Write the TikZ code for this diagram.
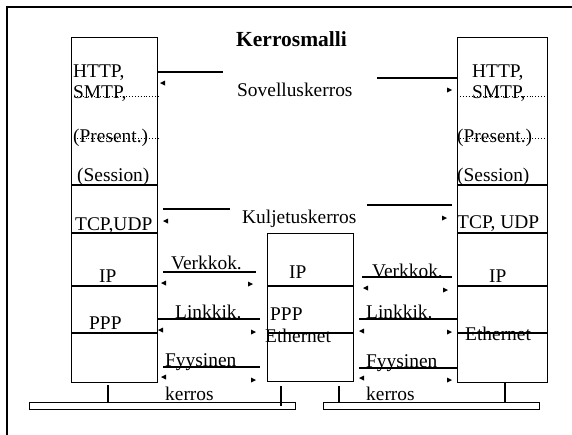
\documentclass[tikz,border=0pt]{standalone}
\usepackage{fontspec}
\setmainfont{Liberation Serif}
\begin{document}
\begin{tikzpicture}[x=1pt,y=-1pt,
  stackbox/.style={draw, line width=1.4pt, anchor=north west, inner sep=0pt, minimum width=#1},
  lbl/.style={anchor=base west, inner sep=0pt, font=\fontsize{19.4}{21}\selectfont},
  ttl/.style={anchor=base west, inner sep=0pt, font=\fontsize{21.5}{23}\selectfont\bfseries},
  sep/.style={line width=1.4pt},
  dsep/.style={line width=0.9pt, dotted},
  link/.style={line width=1.4pt},
  bus/.style={draw, line width=1.4pt, anchor=north west, inner sep=0pt, minimum height=7pt}]
\useasboundingbox (0,0) rectangle (572,434);
% outer frame
\draw[line width=1.5pt] (7,440) -- (7,7) -- (580,7);
% stacks
\node[stackbox=86pt, minimum height=345pt] (L) at (71,37) {};
\node[stackbox=90pt, minimum height=345pt] (R) at (457,37) {};
\node[stackbox=86pt, minimum height=148pt] (M) at (267,233) {};
% dividers
\foreach \n in {L,R}{
  \draw[dsep] (\n.west |- 0,96) -- (\n.east |- 0,96);
  \draw[dsep] (\n.west |- 0,138) -- (\n.east |- 0,138);
  \draw[sep] (\n.west |- 0,185) -- (\n.east |- 0,185);
  \draw[sep] (\n.west |- 0,233) -- (\n.east |- 0,233);
  \draw[sep] (\n.west |- 0,286) -- (\n.east |- 0,286);
  \draw[sep] (\n.west |- 0,333) -- (\n.east |- 0,333);
}
\draw[sep] (M.west |- 0,286) -- (M.east |- 0,286);
\draw[sep] (M.west |- 0,333) -- (M.east |- 0,333);
% buses
\node[bus, minimum width=266pt] (B1) at (29,402) {};
\node[bus, minimum width=216pt] (B2) at (323,402) {};
\draw[sep] (108,385) -- (B1.north -| 108,0);
\draw[sep] (281,386) -- (281,406);
\draw[sep] (339,386) -- (B2.north -| 339,0);
\draw[sep] (505,382) -- (B2.north -| 505,0);
% title and layer labels
\node[ttl] (title) at (236,46) {Kerrosmalli};
\node[lbl] (sov) at (237,96) {Sovelluskerros};
\node[lbl] (kul) at (242,223) {Kuljetuskerros};
% left stack texts
\node[lbl] (l1) at (73,77) {HTTP,};
\node[lbl] (l2) at (73,98) {SMTP,};
\node[lbl] (l3) at (73,142) {(Present.)};
\node[lbl] (l4) at (77,181) {(Session)};
\node[lbl] (l5) at (75,230) {TCP,UDP};
\node[lbl] (l6) at (99,282) {IP};
\node[lbl] (l7) at (89,329) {PPP};
% middle texts
\node[lbl] (m1) at (289,278) {IP};
\node[lbl] (m2) at (270,320) {PPP};
\node[lbl] (m3) at (265,342) {Ethernet};
% right stack texts
\node[lbl] (r1) at (472,77) {HTTP,};
\node[lbl] (r2) at (472,98) {SMTP,};
\node[lbl] (r3) at (457,142) {(Present.)};
\node[lbl] (r4) at (457,181) {(Session)};
\node[lbl] (r5) at (457,228) {TCP, UDP};
\node[lbl] (r6) at (489,282) {IP};
\node[lbl] (r7) at (465,340) {Ethernet};
% link labels
\node[lbl] (v1) at (171,269) {Verkkok.};
\node[lbl] (k1) at (175,318) {Linkkik.};
\node[lbl] (f1) at (165,366) {Fyysinen};
\node[lbl] (e1) at (165,400) {kerros};
\node[lbl] (v2) at (372,277) {Verkkok.};
\node[lbl] (k2) at (366,318) {Linkkik.};
\node[lbl] (f2) at (366,367) {Fyysinen};
\node[lbl] (e2) at (366,400) {kerros};
% connector lines
\draw[link] (157,72) -- (223,72);
\draw[link] (377,78) -- (457,78);
\draw[link] (163,209) -- (230,209);
\draw[link] (367,205) -- (452,205);
\draw[link] (163,272) -- (256,272);
\draw[link] (158,319) -- (260,319);
\draw[link] (163,367) -- (260,367);
\draw[link] (362,277) -- (452,277);
\draw[link] (359,319) -- (457,319);
\draw[link] (359,368) -- (457,368);
% displaced arrow heads
\foreach \x/\y in {160/83, 163/221, 161/283, 158/330, 161/377, 363/288, 359/331, 359/378}{
  \fill (\x,\y) -- ++(5,-2.5) -- ++(0,5) -- cycle;
}
\foreach \x/\y in {452/90, 447/218, 253/284, 256/332, 256/380, 448/290, 452/332, 452/380}{
  \fill (\x,\y) -- ++(-5,-2.5) -- ++(0,5) -- cycle;
}
\end{tikzpicture}
\end{document}
